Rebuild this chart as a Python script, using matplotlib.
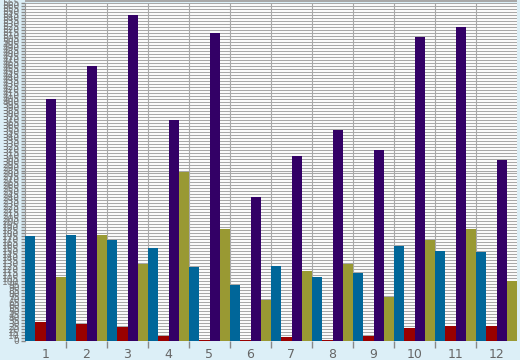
import matplotlib
matplotlib.use("Agg")
import matplotlib.pyplot as plt
from matplotlib.patches import Rectangle
import numpy as np

categories = ["1", "2", "3", "4", "5", "6", "7", "8", "9", "10", "11", "12"]

# four series, bar order inside each group: blue, red, purple, olive
blue = [175, 177, 168, 155, 123, 93, 125, 107, 113, 158, 150, 148]
red = [32, 28, 23, 8, 2, 2, 7, 2, 8, 22, 25, 25]
purple = [405, 460, 545, 370, 515, 240, 310, 353, 320, 508, 525, 303]
olive = [107, 178, 128, 283, 188, 68, 117, 128, 73, 168, 187, 100]

series = [blue, red, purple, olive]
colors = ["#006699", "#990000", "#330066", "#999933"]

ymax = 565
ystep = 5

fig = plt.figure(figsize=(5.2, 3.6), dpi=100)
fig.patch.set_facecolor("#DCEFF7")
ax = fig.add_axes([25 / 520, 1 - 341 / 360, 492 / 520, 338 / 360])
ax.set_facecolor("white")

# thin gray band along the very top edge
fig.add_artist(Rectangle((25 / 520, 1 - 1.5 / 360), 492 / 520, 1.5 / 360,
                         transform=fig.transFigure, color="#A8A8A8", lw=0))

x = np.arange(len(categories))
w = 0.25
for j, vals in enumerate(series):
    ax.bar(x + (j - 1.5) * w, vals, width=w, color=colors[j], linewidth=0, zorder=3)

ax.set_xlim(-0.5, len(categories) - 0.5)
ax.set_ylim(0, ymax)

yt = np.arange(0, ymax + 1, ystep)
ax.set_yticks(yt)
ax.set_yticklabels([str(v) for v in yt], fontsize=6.5, color="#777777")
ax.yaxis.grid(True, color="#A8A8A8", linewidth=0.8, zorder=0)

ax.set_xticks(x)
ax.set_xticklabels(categories, fontsize=9, color="#666666")
ax.set_xticks(np.arange(0.5, len(categories) - 0.5, 1), minor=True)
ax.xaxis.grid(True, which="minor", color="#A8A8A8", linewidth=0.8, zorder=0)
ax.set_axisbelow(True)
ax.tick_params(axis="x", which="major", length=0, pad=5)
ax.tick_params(axis="x", which="minor", length=5, color="#888888", width=1)
ax.tick_params(axis="y", length=3, color="#888888", width=1, pad=1)

for s in ["top", "right", "bottom"]:
    ax.spines[s].set_visible(False)
ax.spines["left"].set_color("#999999")

fig.savefig("out.png", dpi=100, facecolor=fig.get_facecolor())
